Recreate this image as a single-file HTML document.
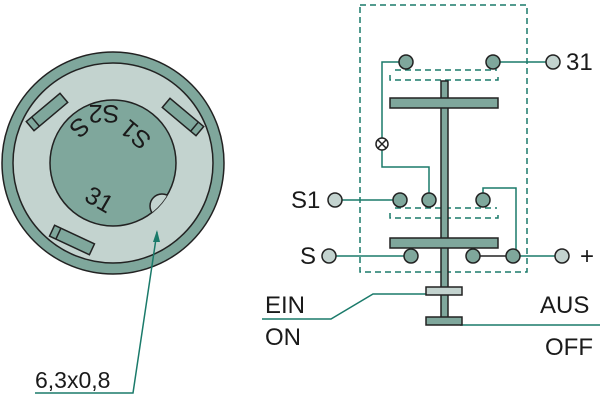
<!DOCTYPE html>
<html><head><meta charset="utf-8"><style>
html,body{margin:0;padding:0;background:#fff;}
svg{display:block;}
text{font-family:"Liberation Sans",sans-serif;fill:#1a1a1a;}
</style></head><body>
<svg width="600" height="402" viewBox="0 0 600 402" xmlns="http://www.w3.org/2000/svg">
<defs><clipPath id="ic"><circle cx="113" cy="163" r="63"/></clipPath></defs>
<circle cx="113" cy="163" r="111" fill="#7fa79c" stroke="#222" stroke-width="1.5"/>
<circle cx="113" cy="163" r="100" fill="#c3d3cf" stroke="#222" stroke-width="1.5"/>
<circle cx="113" cy="163" r="63" fill="#7fa79c" stroke="#222" stroke-width="1.5"/>
<circle cx="162" cy="206" r="12" fill="#c3d3cf" stroke="#222" stroke-width="1.5" clip-path="url(#ic)"/>
<g fill="#7fa79c" stroke="#222" stroke-width="1.5">
<g transform="translate(47,112) rotate(-40)"><rect x="-22" y="-6" width="44" height="12"/><line x1="-15" y1="-6" x2="-15" y2="6"/></g>
<g transform="translate(183,117) rotate(40)"><rect x="-22" y="-6" width="44" height="12"/><line x1="15" y1="-6" x2="15" y2="6"/></g>
<g transform="translate(72,240) rotate(25)"><rect x="-22" y="-6" width="44" height="12"/><line x1="-15" y1="-6" x2="-15" y2="6"/></g>
</g>
<text font-size="25" text-anchor="middle" transform="translate(104,105) rotate(180)">S2</text>
<text font-size="25" text-anchor="middle" transform="translate(141,128) rotate(220)">S1</text>
<text font-size="25" text-anchor="middle" transform="translate(74,121) rotate(140)">S</text>
<text font-size="25" text-anchor="middle" transform="translate(95,207) rotate(30)">31</text>
<polyline points="157,232 133,393 35,393" fill="none" stroke="#1a7a6a" stroke-width="1.5"/>
<path d="M157,230 L153,242 L160,242 Z" fill="#1a7a6a"/>
<text x="35" y="388" font-size="23">6,3x0,8</text>
<g fill="none" stroke="#1a7a6a" stroke-width="1.5" stroke-dasharray="6,4">
<rect x="360" y="5" width="167" height="267"/>
<polyline points="390,75 390,80 498,80 498,75"/>
<line x1="395" y1="70" x2="497" y2="70"/>
<polyline points="390,213 390,218 498,218 498,213"/>
<line x1="395" y1="208" x2="497" y2="208"/>
</g>
<g fill="none" stroke="#1a7a6a" stroke-width="1.5">
<polyline points="400,62 382,62 382,138"/>
<polyline points="382,150 382,167 429,167 429,195"/>
<line x1="493" y1="62" x2="547" y2="62"/>
<line x1="341" y1="200" x2="400" y2="200"/>
<polyline points="483,195 483,188 516,188 516,256"/>
<line x1="335" y1="256" x2="411" y2="256"/>
<line x1="513" y1="256" x2="556" y2="256"/>
<polyline points="262,319 331,319 373,294 430,294"/>
<line x1="460" y1="325" x2="600" y2="325"/>
</g>
<line x1="473" y1="256" x2="513" y2="256" stroke="#222" stroke-width="1.5"/>
<circle cx="382" cy="144" r="6" fill="#fff" stroke="#222" stroke-width="1.5"/>
<path d="M378,140 L386,148 M386,140 L378,148" stroke="#222" stroke-width="1.5"/>
<g fill="#7fa79c" stroke="#222" stroke-width="1.5">
<rect x="441" y="81" width="7" height="238"/>
<rect x="390" y="98" width="108" height="10"/>
<rect x="390" y="238" width="108" height="10"/>
<rect x="426" y="317" width="36" height="8"/>
<circle cx="406" cy="62" r="7"/><circle cx="493" cy="62" r="7"/>
<circle cx="400" cy="200" r="7"/><circle cx="429" cy="200" r="7"/><circle cx="483" cy="200" r="7"/>
<circle cx="411" cy="256" r="7"/><circle cx="473" cy="256" r="7"/><circle cx="513" cy="256" r="7"/>
</g>
<rect x="426" y="287" width="36" height="8" fill="#c3d3cf" stroke="#222" stroke-width="1.5"/>
<g fill="#c3d3cf" stroke="#222" stroke-width="1.5">
<circle cx="553" cy="62" r="7"/><circle cx="335" cy="200" r="7"/><circle cx="329" cy="256" r="7"/><circle cx="562" cy="256" r="7"/>
</g>
<g font-size="24">
<text x="566" y="70">31</text>
<text x="291" y="208">S1</text>
<text x="300" y="264">S</text>
<text x="580" y="264">+</text>
<text x="265" y="313">EIN</text>
<text x="265" y="345">ON</text>
<text x="540" y="313">AUS</text>
<text x="545" y="355">OFF</text>
</g>
</svg>
</body></html>
